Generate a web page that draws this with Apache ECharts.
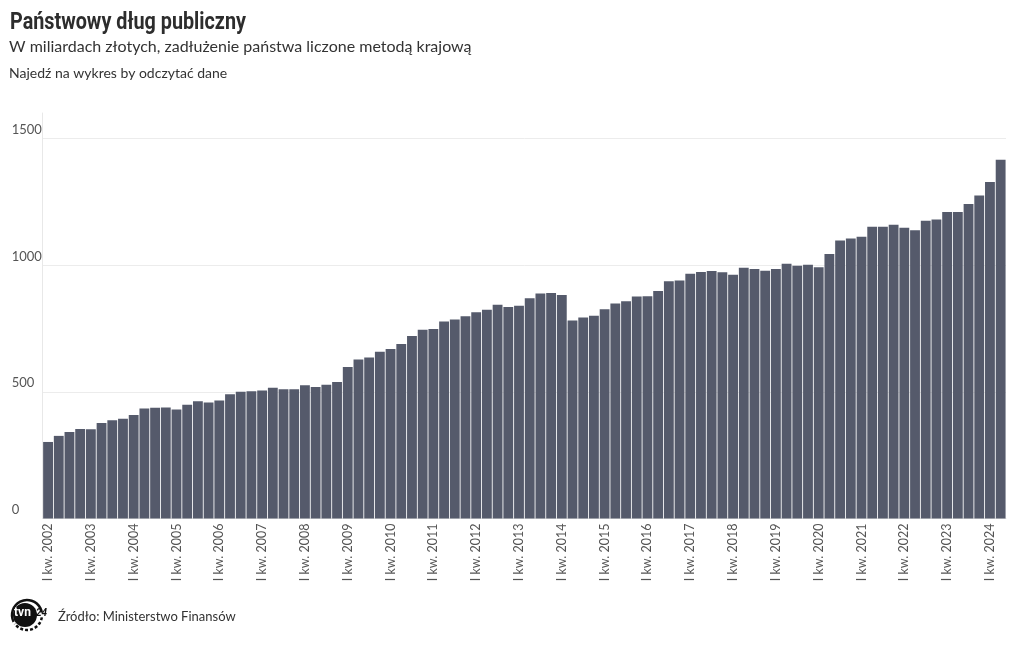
<!DOCTYPE html>
<html>
<head>
<meta charset="utf-8">
<script src="https://cdn.jsdelivr.net/npm/echarts@6/dist/echarts.min.js"></script>
<style>
  html, body { margin: 0; padding: 0; background: #ffffff; }
  #chart { width: 1020px; height: 650px; }
</style>
</head>
<body>
<div id="chart"></div>
<script>
// ---- data ----
const years = [2002, 2003, 2004, 2005, 2006, 2007, 2008, 2009, 2010, 2011, 2012, 2013,
               2014, 2015, 2016, 2017, 2018, 2019, 2020, 2021, 2022, 2023, 2024];
const quarterNames = ['I', 'II', 'III', 'IV'];
const lastYearQuarters = 2; // 2024: I and II quarter
const debtValues = [
  302, 326, 341, 353,   // 2002
  352, 377, 388, 394,   // 2003
  408, 434, 437, 438,   // 2004
  430, 449, 463, 458,   // 2005
  466, 490, 500, 502,   // 2006
  505, 516, 510, 510,   // 2007
  526, 519, 528, 539,   // 2008
  598, 627, 635, 658,   // 2009
  669, 689, 720, 745,   // 2010
  748, 777, 785, 798,   // 2011
  814, 824, 843, 835,   // 2012
  839, 869, 888, 890,   // 2013
  882, 781, 793, 800,   // 2014
  826, 848, 857, 876,   // 2015
  877, 898, 936, 939,   // 2016
  966, 973, 977, 972,   // 2017
  962, 989, 984, 978,   // 2018
  984, 1005, 997, 1001, // 2019
  991, 1044, 1097, 1105,// 2020
  1112, 1151, 1151, 1159,// 2021
  1147, 1137, 1175, 1180,// 2022
  1209, 1209, 1241, 1274,// 2023
  1328, 1416             // 2024
];
const yTicks = [0, 500, 1000, 1500];

// build category labels
const categories = [];
years.forEach((y, yi) => {
  const n = (yi === years.length - 1) ? lastYearQuarters : 4;
  for (let q = 0; q < n; q++) categories.push(quarterNames[q] + ' kw. ' + y);
});

const chart = echarts.init(document.getElementById('chart'), null, { renderer: 'canvas' });
const textFont = 'Lato, "Noto Sans", sans-serif';

chart.setOption({
  animation: false,
  backgroundColor: '#ffffff',
  title: [
    {
      text: 'W miliardach złotych, zadłużenie państwa liczone metodą krajową',
      left: 4, top: 34, padding: 5,
      textStyle: { fontFamily: textFont, fontWeight: 'normal', fontSize: 16, color: '#333333' }
    },
    {
      text: 'Najedź na wykres by odczytać dane',
      left: 4, top: 61, padding: 5,
      textStyle: { fontFamily: textFont, fontWeight: 'normal', fontSize: 14, color: '#333333' }
    }
  ],
  grid: { left: 42.7, right: 14, top: 113, bottom: 131.5, containLabel: false },
  xAxis: {
    type: 'category',
    data: categories,
    boundaryGap: true,
    axisLine: { show: true, lineStyle: { color: '#e4e4e4', width: 1 } },
    axisTick: { show: false },
    axisLabel: {
      interval: 3,
      rotate: 90,
      margin: 5,
      fontFamily: textFont,
      fontSize: 12.5,
      color: '#555555'
    },
    splitLine: { show: false }
  },
  yAxis: {
    type: 'value',
    min: 0,
    max: 1600,
    interval: 500,
    axisLine: { show: true, lineStyle: { color: '#e8e8e8', width: 1 } },
    axisTick: { show: false },
    axisLabel: {
      showMaxLabel: false,
      align: 'left',
      verticalAlign: 'bottom',
      margin: 31,
      padding: [0, 0, 2, 0],
      fontFamily: textFont,
      fontSize: 13,
      color: '#555555',
      formatter: v => (yTicks.indexOf(v) >= 0 ? String(v) : '')
    },
    splitLine: { show: true, showMaxLine: false, lineStyle: { color: '#ececec', width: 1 } }
  },
  series: [{
    type: 'bar',
    data: debtValues,
    barCategoryGap: '8%',
    itemStyle: { color: '#555a6b' }
  }],
  graphic: [
    { type: 'text', x: 10, y: 12, scaleX: 0.86, scaleY: 1,
      style: { text: 'Państwowy dług publiczny', fill: '#2d2d2d',
               font: 'bold 23px Roboto, sans-serif' } },
    { type: 'arc', shape: { cx: 27, cy: 615, r: 15, startAngle: Math.PI * 0.85, endAngle: Math.PI * 1.95 },
      style: { stroke: '#111', lineWidth: 2.5, fill: null } },
    { type: 'arc', shape: { cx: 27, cy: 615, r: 15, startAngle: Math.PI * 0.05, endAngle: Math.PI * 0.8 },
      style: { stroke: '#111', lineWidth: 2.5, fill: null, lineDash: [3, 2] } },
    { type: 'circle', shape: { cx: 25, cy: 615, r: 12 }, style: { fill: '#111' } },
    { type: 'text', left: 14, top: 607,
      style: { text: 'tvn', fill: '#ffffff', font: 'bold 12px Roboto, sans-serif' } },
    { type: 'text', left: 36, top: 608,
      style: { text: '24', fill: '#111', font: 'italic bold 10px Roboto, sans-serif' } },
    { type: 'text', left: 58, top: 610,
      style: { text: 'Źródło: Ministerstwo Finansów', fill: '#333333', font: '13px Lato, "Noto Sans", sans-serif' } }
  ]
});
</script>
</body>
</html>
